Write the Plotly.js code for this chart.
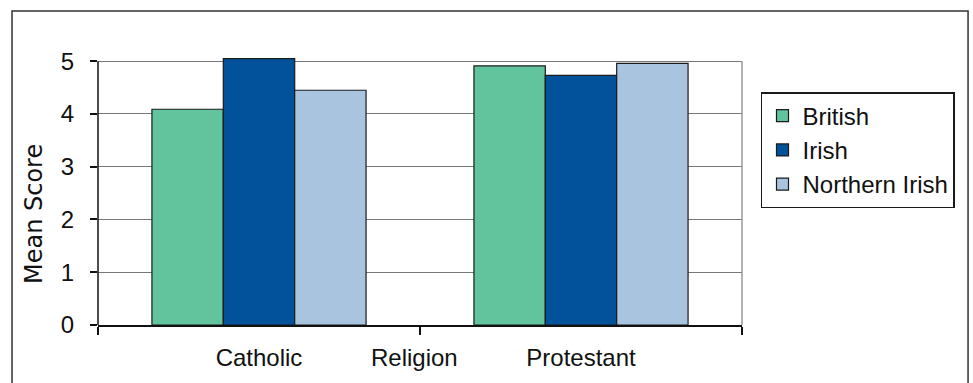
<!DOCTYPE html>
<html>
<head>
<meta charset="utf-8">
<script src="https://cdn.plot.ly/plotly-3.0.1.min.js"></script>
<style>html,body{margin:0;padding:0;background:#fff;}#chart{width:973px;height:383px;}</style>
</head>
<body>
<div id="chart"></div>
<script>
const categories = ["Catholic", "Protestant"];
const seriesNames = ["British", "Irish", "Northern Irish"];
const british = [4.09, 4.91];
const irish = [5.05, 4.73];
const northernIrish = [4.45, 4.96];
const yTicks = [0, 1, 2, 3, 4, 5];
const xTitle = "Religion";
const yTitle = "Mean Score";

const colors = ["#62C49D", "#01529A", "#A9C4DF"];
const values = [british, irish, northernIrish];

const traces = seriesNames.map((name, i) => ({
  type: "bar",
  name: name,
  x: categories,
  y: values[i],
  marker: {color: colors[i], line: {color: "#1a1a1a", width: 1.2}},
  hoverinfo: "x+y+name"
}));

const font = {family: "Liberation Sans, Arial, sans-serif", size: 24, color: "#111"};

const layout = {
  width: 973, height: 383,
  margin: {l: 98, r: 231, t: 57, b: 58},
  paper_bgcolor: "#fff", plot_bgcolor: "#fff",
  font: font,
  barmode: "group",
  bargap: 0.335,
  bargroupgap: 0,
  showlegend: true,
  legend: {
    x: 1.0295, y: 0.869, xanchor: "left", yanchor: "top",
    bordercolor: "#1a1a1a", borderwidth: 1.5, bgcolor: "#fff",
    font: font, traceorder: "normal", tracegroupgap: 0
  },
  xaxis: {
    type: "category",
    showline: true, linecolor: "#111", linewidth: 1.5,
    ticks: "outside", tickson: "boundaries", ticklen: 8, tickcolor: "#111", tickwidth: 1.5,
    showgrid: false, zeroline: false,
    tickfont: font,
    ticklabelstandoff: 10
  },
  yaxis: {
    range: [0, 5.08],
    tickvals: yTicks,
    ticktext: yTicks.map(String),
    showline: false,
    ticks: "outside", ticklen: 7, tickcolor: "#111", tickwidth: 1.5,
    showgrid: true, gridcolor: "#777", gridwidth: 1.3,
    zeroline: false,
    tickfont: font,
    ticklabelstandoff: 11
  },
  shapes: [
    {type: "rect", xref: "paper", yref: "paper", x0: -0.1335, x1: 1.351, y0: -0.3, y1: 1.1716,
     line: {color: "#333", width: 1.5}, fillcolor: "rgba(0,0,0,0)", layer: "below"},
    {type: "line", xref: "paper", yref: "y", x0: 0, x1: 0, y0: 0, y1: 5,
     line: {color: "#111", width: 1.5}},
    {type: "line", xref: "paper", yref: "y", x0: 1, x1: 1, y0: 0, y1: 5,
     line: {color: "#999", width: 1.5}}
  ],
  annotations: [
    {text: xTitle, xref: "paper", yref: "paper", x: 0.492, y: -0.123,
     xanchor: "center", yanchor: "middle", showarrow: false, font: font},
    {text: yTitle, xref: "paper", yref: "paper", x: -0.0994, y: 0.414,
     xanchor: "center", yanchor: "middle", textangle: -90, showarrow: false,
     font: {family: "DejaVu Sans, sans-serif", size: 24, color: "#111"}}
  ]
};

Plotly.newPlot("chart", traces, layout, {displayModeBar: false, responsive: false});
</script>
</body>
</html>
